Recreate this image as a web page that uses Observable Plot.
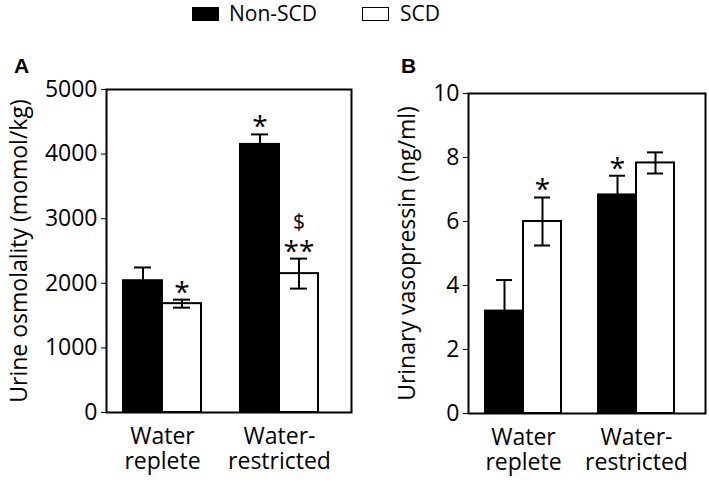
<!DOCTYPE html>
<html><head><meta charset="utf-8">
<script src="https://cdn.jsdelivr.net/npm/d3@7"></script>
<script src="https://cdn.jsdelivr.net/npm/@observablehq/plot@0.6"></script>
<style>
body{margin:0;background:#fff;}
#wrap{position:relative;width:709px;height:482px;overflow:hidden;background:#fff;font-family:"Open Sans",sans-serif;color:#000}
.layer{position:absolute;top:0}
.letter{position:absolute;font-family:"Liberation Sans",Arial,sans-serif;font-weight:bold;font-size:21px;line-height:1}
.sw{position:absolute;top:7px;width:25px;height:12px;border:1px solid #000}
.lt{position:absolute;top:-2px;font-size:21px;line-height:30px;white-space:nowrap}
</style></head>
<body><div id="wrap"></div>
<script>
// ---- shared categories ----
const groups = ["Water replete", "Water-restricted"];
const groupTicks = ["Water\nreplete", "Water-\nrestricted"];
const series = ["Non-SCD", "SCD"];
const seriesColors = ["#000000", "#ffffff"];

// ---- Panel A: urine osmolality (momol/kg) ----
const osmoNonSCD = [2040, 4150];
const osmoNonSCDErr = [205, 155];
const osmoSCD = [1685, 2150];
const osmoSCDErr = [62, 232];
const osmoNonSCDSig = ["", "*"];
const osmoSCDSig = ["*", "**"];
const osmoSCDExtra = ["", "$"];
const osmoTicks = [0, 1000, 2000, 3000, 4000, 5000];

// ---- Panel B: urinary vasopressin (ng/ml) ----
const avpNonSCD = [3.2, 6.83];
const avpNonSCDErr = [0.97, 0.6];
const avpSCD = [6.0, 7.83];
const avpSCDErr = [0.75, 0.33];
const avpNonSCDSig = ["", "*"];
const avpSCDSig = ["*", ""];
const avpSCDExtra = ["", ""];
const avpTicks = [0, 2, 4, 6, 8, 10];

function table(nonV, nonE, scdV, scdE, nonS, scdS, scdX) {
  return groups.flatMap((g, i) => [
    {group: g, series: series[0], value: nonV[i], err: nonE[i], sig: nonS[i], extra: ""},
    {group: g, series: series[1], value: scdV[i], err: scdE[i], sig: scdS[i], extra: scdX[i]}
  ]);
}
const dataA = table(osmoNonSCD, osmoNonSCDErr, osmoSCD, osmoSCDErr, osmoNonSCDSig, osmoSCDSig, osmoSCDExtra);
const dataB = table(avpNonSCD, avpNonSCDErr, avpSCD, avpSCDErr, avpNonSCDSig, avpSCDSig, avpSCDExtra);

const font = '"Open Sans", sans-serif';
const baseStyle = {fontFamily: font, fontSize: "23px", color: "#000", background: "transparent", overflow: "visible"};

function panel(data, cfg) {
  const m = {marginLeft: cfg.ml, marginRight: cfg.mr, marginTop: cfg.mt, marginBottom: cfg.mb};
  const axes = Plot.plot({
    width: cfg.width, height: 482, ...m, style: baseStyle,
    y: {domain: cfg.domain},
    marks: [
      Plot.axisY({ticks: cfg.ticks, tickSize: 5, tickPadding: 4, tickFormat: d3.format("d"), label: cfg.label, labelAnchor: "center", labelOffset: cfg.labelOffset, labelArrow: "none"}),
      Plot.frame({stroke: "#000", strokeWidth: 2})
    ]
  });
  const bars = Plot.plot({
    width: cfg.width, height: 482, ...m, style: baseStyle,
    fx: {domain: groups, paddingInner: 0.33, paddingOuter: 0.21, align: 0.35, label: null},
    x: {domain: series, paddingInner: 0, paddingOuter: 0, axis: null},
    y: {domain: cfg.domain, axis: null},
    color: {domain: series, range: seriesColors},
    marks: [
      Plot.barY(data, {fx: "group", x: "series", y: "value", fill: "series", stroke: "#000", strokeWidth: 2}),
      Plot.ruleX(data, {fx: "group", x: "series", y1: d => d.value - d.err, y2: d => d.value + d.err, stroke: "#000", strokeWidth: 2}),
      Plot.tickY(data, {fx: "group", x: "series", y: d => d.value + d.err, stroke: "#000", strokeWidth: 2, insetLeft: 11, insetRight: 11}),
      Plot.tickY(data, {fx: "group", x: "series", y: d => d.value - d.err, stroke: "#000", strokeWidth: 2, insetLeft: 11, insetRight: 11}),
      Plot.text(data, {fx: "group", x: "series", y: d => d.value + d.err, text: "sig", fontSize: 28, dy: -7, fill: "#000"}),
      Plot.text(data, {fx: "group", x: "series", y: d => d.value + d.err, text: "extra", fontSize: 21, dy: -36, fill: "#000", stroke: "none"}),
      Plot.axisFx({anchor: "bottom", tickSize: 0, tickPadding: 14, label: null, lineHeight: 1.08, tickFormat: d => groupTicks[groups.indexOf(d)]})
    ]
  });
  return [axes, bars];
}

const wrap = document.getElementById("wrap");
function place(el, left) { el.classList.add("layer"); el.style.left = left + "px"; wrap.appendChild(el); }

const [aAxes, aBars] = panel(dataA, {width: 360, ml: 106, mr: 9, mt: 89, mb: 70, domain: [0, 5000], ticks: osmoTicks, label: "Urine osmolality (momol/kg)", labelOffset: 96});
place(aAxes, 0); place(aBars, 0);
const [bAxes, bBars] = panel(dataB, {width: 349, ml: 108, mr: 4, mt: 93, mb: 69, domain: [0, 10], ticks: avpTicks, label: "Urinary vasopressin (ng/ml)", labelOffset: 70});
place(bAxes, 360); place(bBars, 360);

// panel letters
[["A", 14, 55], ["B", 401, 55]].forEach(([t, x, y]) => {
  const d = document.createElement("div"); d.className = "letter"; d.textContent = t;
  d.style.left = x + "px"; d.style.top = y + "px"; wrap.appendChild(d);
});
// legend
const legPos = [[192, 229], [362, 400]];
series.forEach((s, i) => {
  const sw = document.createElement("div"); sw.className = "sw";
  sw.style.left = legPos[i][0] + "px"; sw.style.background = seriesColors[i];
  wrap.appendChild(sw);
  const t = document.createElement("div"); t.className = "lt"; t.textContent = s;
  t.style.left = legPos[i][1] + "px"; wrap.appendChild(t);
});
</script></body></html>
